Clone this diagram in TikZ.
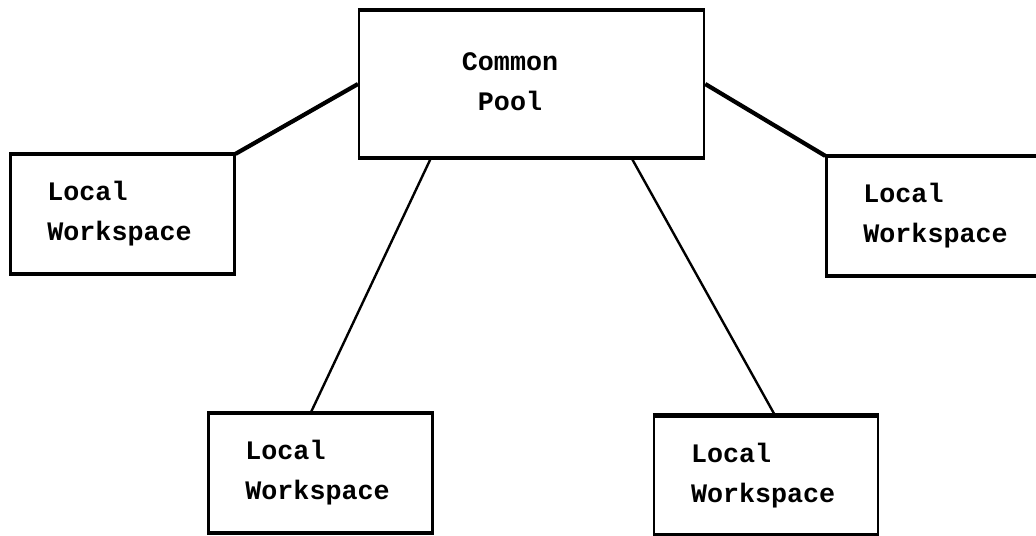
\documentclass[tikz,border=0pt]{standalone}
\usepackage{fontspec}
\setmonofont{Liberation Mono}
\usetikzlibrary{calc}
\newcommand{\wsfont}{\ttfamily\bfseries\fontsize{19}{28.5}\selectfont}
\tikzset{
  wsbox/.style   = {draw, line width=1.6pt, minimum width=5.6cm, minimum height=2.95cm,
                    text width=3.75cm, inner xsep=0.925cm, align=left, font=\wsfont},
  poolbox/.style = {draw, line width=1.6pt, minimum width=8.625cm, minimum height=3.65cm},
  pooltxt/.style = {align=center, font=\wsfont},
  edgeln/.style  = {line width=3pt},
  linkthick/.style = {line width=3pt},
  linkthin/.style  = {line width=1.7pt}
}
\begin{document}
\begin{tikzpicture}
  \clip (0,0) rectangle (25.9,13.4);
  \fill[white] (0,0) rectangle (25.9,13.4);
  % boxes
  \node[poolbox] (pool) at (13.29,11.3) {};
  \node[pooltxt] (pooltext) at (12.75,11.35) {Common\\Pool};
  \node[wsbox] (lw1) at (3.06,8.05) {Local\\Workspace};
  \node[wsbox] (lw2) at (23.46,8.0) {Local\\Workspace};
  \node[wsbox] (lw3) at (8.01,1.575) {Local\\Workspace};
  \node[wsbox] (lw4) at (19.15,1.51) {Local\\Workspace};
  % heavier top and bottom edges
  \foreach \b in {pool,lw1,lw2,lw3,lw4} {
    \draw[edgeln] (\b.north west) -- (\b.north east);
    \draw[edgeln] (\b.south west) -- (\b.south east);
  }
  % links
  \draw[linkthick] (pool.west) -- (lw1.north east);
  \draw[linkthick] (pool.east) -- (lw2.north west);
  \draw[linkthin] ($(pool.south west)!0.21!(pool.south east)$)
        -- ($(lw3.north west)!0.457!(lw3.north east)$);
  \draw[linkthin] ($(pool.south west)!0.788!(pool.south east)$)
        -- ($(lw4.north west)!0.54!(lw4.north east)$);
\end{tikzpicture}
\end{document}
